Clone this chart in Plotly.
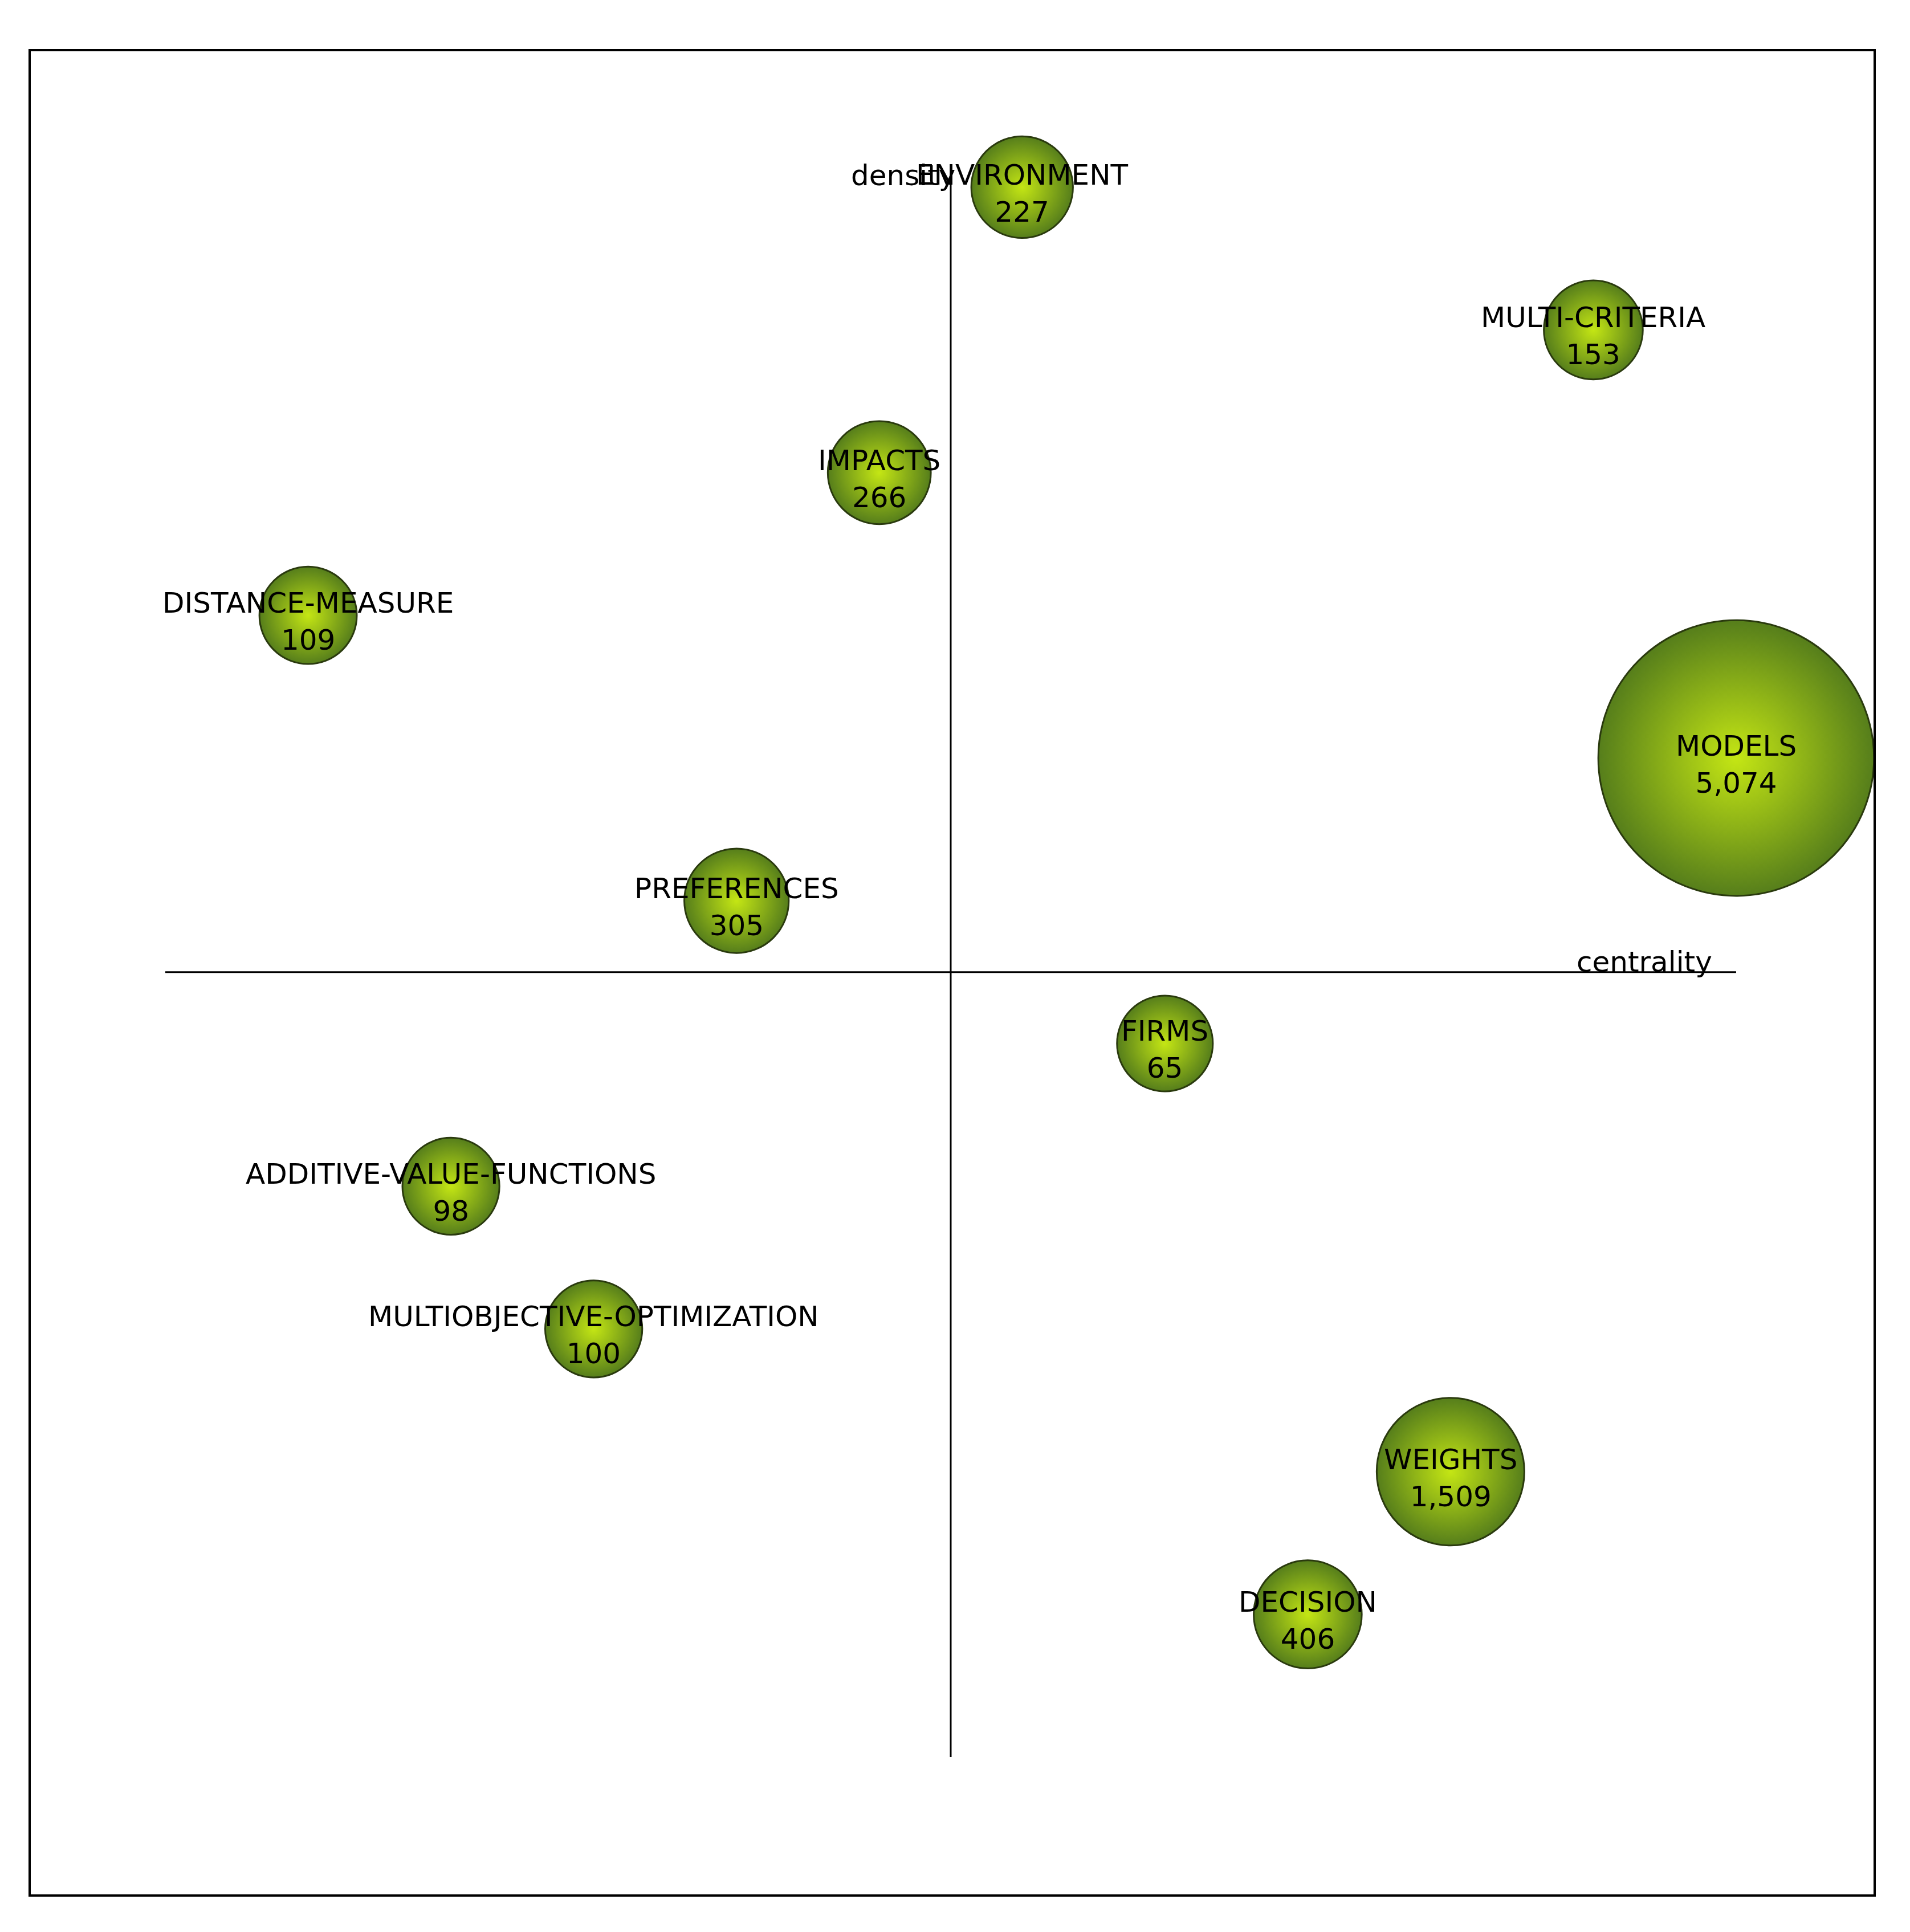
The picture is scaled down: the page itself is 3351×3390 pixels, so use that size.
import plotly.graph_objects as go

# themes of the strategic diagram (centrality rank, density rank, documents)
themes = [
    "DISTANCE-MEASURE", "ADDITIVE-VALUE-FUNCTIONS", "MULTIOBJECTIVE-OPTIMIZATION",
    "PREFERENCES", "IMPACTS", "ENVIRONMENT", "FIRMS", "DECISION",
    "WEIGHTS", "MULTI-CRITERIA", "MODELS",
]
centrality = [1, 2, 3, 4, 5, 6, 7, 8, 9, 10, 11]
density = [8, 4, 3, 6, 9, 11, 5, 1, 2, 10, 7]
documents = [109, 98, 100, 305, 266, 227, 65, 406, 1509, 153, 5074]

FONT = "DejaVu Sans"
FS = 50

labels = [f"{t}<br>{v:,}" for t, v in zip(themes, documents)]
sizes = [164 + 0.063 * v for v in documents]

fig = go.Figure()

# quadrant axes
fig.add_shape(type="line", x0=0, x1=11, y0=5.5, y1=5.5,
              line=dict(color="black", width=3))
fig.add_shape(type="line", x0=5.5, x1=5.5, y0=0, y1=11.05,
              line=dict(color="black", width=3))

fig.add_trace(go.Scatter(
    x=centrality, y=density, mode="markers",
    marker=dict(
        size=sizes, sizemode="diameter", color="#567e1b",
        gradient=dict(type="radial", color="#c4e614"),
        line=dict(color="#2a3a0e", width=3), opacity=1,
    ),
    cliponaxis=False, hoverinfo="skip", showlegend=False,
))

# labels on the bubbles
for xx, yy, lab in zip(centrality, density, labels):
    fig.add_annotation(x=xx, y=yy, text=lab, showarrow=False,
                       xanchor="center", yanchor="middle", yshift=-11,
                       font=dict(family=FONT, size=FS, color="black"))

fig.add_annotation(x=5.5, y=11.0, text="density", showarrow=False,
                   xanchor="right", yanchor="bottom", yshift=-11, xshift=10,
                   font=dict(family=FONT, size=FS, color="black"))
fig.add_annotation(x=10.84, y=5.5, text="centrality", showarrow=False,
                   xanchor="right", yanchor="bottom", yshift=-13,
                   font=dict(family=FONT, size=FS, color="black"))

# outer frame
fig.add_shape(type="rect", xref="paper", yref="paper", x0=0, x1=1, y0=0, y1=1,
              line=dict(color="black", width=4))

fig.update_xaxes(range=[-0.95, 11.97], visible=False)
fig.update_yaxes(range=[-0.97, 11.96], visible=False)
fig.update_layout(
    width=3351, height=3390,
    margin=dict(l=44, r=70, t=80, b=72),
    plot_bgcolor="white", paper_bgcolor="white",
)

fig.write_html("out.html")
